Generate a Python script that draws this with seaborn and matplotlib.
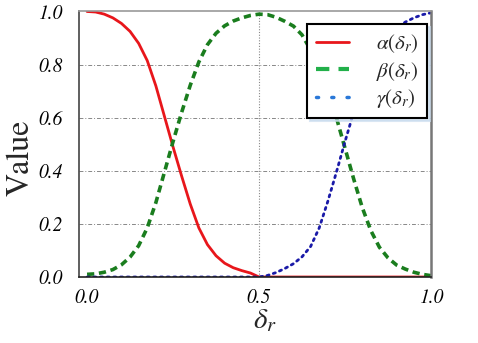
import numpy as np
import pandas as pd
import matplotlib
matplotlib.use("Agg")
import matplotlib.pyplot as plt
import seaborn as sns
from matplotlib.lines import Line2D

# ---- data ----
x_vals = np.linspace(0.0, 1.0, 41)
alpha_vals = [1.000, 0.998, 0.990, 0.976, 0.955, 0.925, 0.880, 0.815, 0.720, 0.605,
              0.490, 0.380, 0.275, 0.185, 0.122, 0.080, 0.052, 0.035, 0.024, 0.015,
              0.000, 0.000, 0.000, 0.000, 0.000, 0.000, 0.000, 0.000, 0.000, 0.000,
              0.000, 0.000, 0.000, 0.000, 0.000, 0.000, 0.000, 0.000, 0.000, 0.000,
              0.000]
beta_vals = [0.010, 0.012, 0.018, 0.028, 0.046, 0.075, 0.118, 0.185, 0.280, 0.395,
             0.510, 0.620, 0.722, 0.810, 0.875, 0.918, 0.946, 0.964, 0.976, 0.985,
             0.990, 0.988, 0.978, 0.963, 0.945, 0.912, 0.855, 0.780, 0.690, 0.600,
             0.485, 0.370, 0.262, 0.175, 0.112, 0.072, 0.045, 0.030, 0.018, 0.010,
             0.005]
gamma_vals = [0.000, 0.000, 0.000, 0.000, 0.000, 0.000, 0.000, 0.000, 0.000, 0.000,
              0.000, 0.000, 0.000, 0.000, 0.000, 0.000, 0.000, 0.000, 0.000, 0.000,
              0.000, 0.006, 0.017, 0.032, 0.050, 0.076, 0.115, 0.185, 0.285, 0.395,
              0.510, 0.620, 0.720, 0.800, 0.862, 0.905, 0.938, 0.960, 0.976, 0.988,
              0.995]
series_labels = [r"$\alpha(\delta_r)$", r"$\beta(\delta_r)$", r"$\gamma(\delta_r)$"]
y_ticks = [0.0, 0.2, 0.4, 0.6, 0.8, 1.0]
x_ticks = [0.0, 0.5, 1.0]

df = pd.DataFrame({"x": x_vals, "alpha": alpha_vals, "beta": beta_vals, "gamma": gamma_vals})

sns.set_style("white")
plt.rcParams["font.family"] = ["STIXGeneral", "DejaVu Serif"]
plt.rcParams["mathtext.fontset"] = "stix"

fig = plt.figure(figsize=(4.78, 3.43), dpi=100)
ax = fig.add_axes([0.1663, 0.1924, 0.9017 - 0.1663, 0.9665 - 0.1924])

sns.lineplot(data=df, x="x", y="alpha", ax=ax, color="#e8161b", lw=2.0, ls="-")
sns.lineplot(data=df, x="x", y="beta", ax=ax, color="#1a7d1e", lw=2.6)
ax.lines[-1].set_dashes([2.0, 1.3])
sns.lineplot(data=df, x="x", y="gamma", ax=ax, color="#1a1aa8", lw=2.0)
ax.lines[-1].set_dashes([0.8, 1.6])
ax.lines[-1].set_dash_capstyle("round")

ax.set_xlim(-0.022, 1.0)
ax.set_ylim(0.0, 1.0)
ax.set_yticks(y_ticks)
ax.set_xticks(x_ticks)
ax.set_yticklabels([f"{v:.1f}" for v in y_ticks], fontstyle="italic", fontsize=14)
ax.set_xticklabels([f"{v:.1f}" for v in x_ticks], fontstyle="italic", fontsize=14)
ax.tick_params(axis="y", length=0, pad=12, colors="black")
ax.tick_params(axis="x", length=0, pad=8, colors="black")

for v in [0.2, 0.4, 0.6, 0.8]:
    ax.axhline(v, color="#888888", lw=0.7, ls=(0, (4, 2, 1, 2)), zorder=0.5)
ax.axvline(0.5, color="#888888", lw=0.8, ls=(0, (1, 1.5)), zorder=0.5)

ax.set_ylabel("Value", fontsize=23)
ax.yaxis.set_label_coords(-0.125, 0.45)
ax.set_xlabel(r"$\delta_r$", fontsize=21)
ax.xaxis.set_label_coords(0.528, -0.112)

ax.spines["left"].set_color("#444444")
ax.spines["bottom"].set_color("#222222")
ax.spines["top"].set_color("#999999")
ax.spines["right"].set_color("#777777")
for s in ax.spines.values():
    s.set_linewidth(1.2)
ax.spines["right"].set_linewidth(1.8)

handles = [
    Line2D([], [], color="#e8161b", lw=2.0, ls="-"),
    Line2D([], [], color="#22b04a", lw=3.0, ls=(0, (3.2, 2.2))),
    Line2D([], [], color="#2a78d8", lw=2.5, ls=(0, (0.6, 3.8)), dash_capstyle="round"),
]
leg = ax.legend(handles, series_labels, loc="upper right", bbox_to_anchor=(0.9886, 0.953),
                borderaxespad=0.0, fontsize=15, frameon=True, fancybox=False,
                handlelength=1.6, handletextpad=1.3, labelspacing=0.22, borderpad=0.4,
                shadow={"color": "#c9dcee", "alpha": 0.7})
leg.get_frame().set_edgecolor("black")
leg.get_frame().set_linewidth(1.5)

fig.savefig("out.png", dpi=100)
